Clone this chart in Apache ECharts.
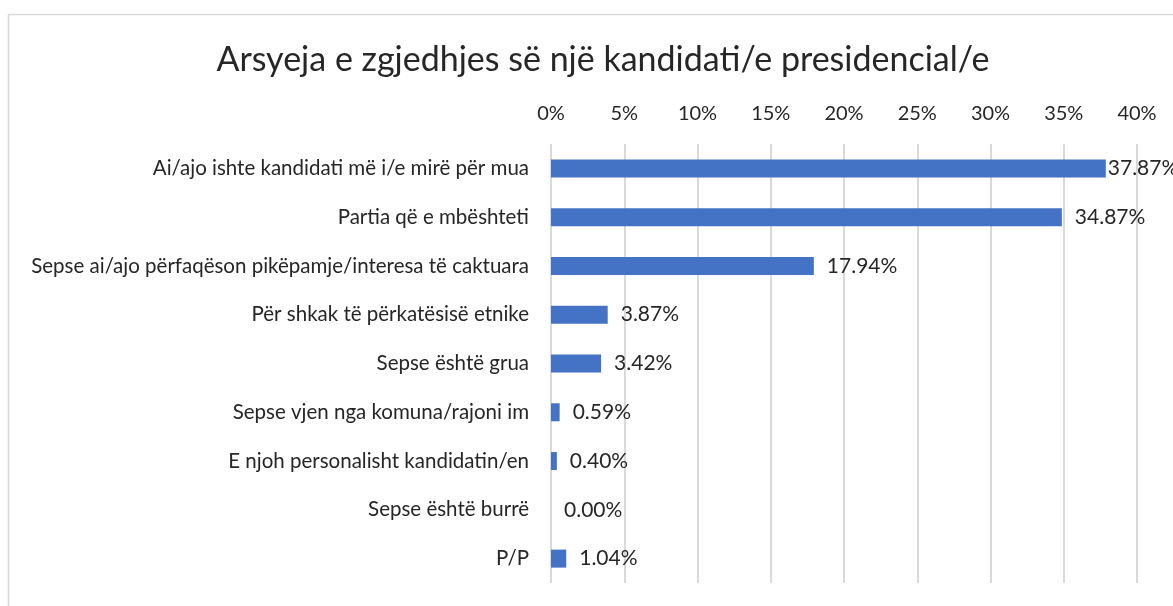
<!DOCTYPE html>
<html>
<head>
    <meta charset="utf-8">
    <title>Arsyeja e zgjedhjes</title>
    <script src="https://cdn.jsdelivr.net/npm/echarts@6/dist/echarts.min.js"></script>
    <style>
        html, body { margin: 0; padding: 0; background: #ffffff; }
        #main { width: 1173px; height: 606px; }
    </style>
</head>
<body>
    <div id="main"></div>
    <script>
        // data
        const categories = [
            'Ai/ajo ishte kandidati më i/e mirë për mua',
            'Partia që e mbështeti',
            'Sepse ai/ajo përfaqëson pikëpamje/interesa të caktuara',
            'Për shkak të përkatësisë etnike',
            'Sepse është grua',
            'Sepse vjen nga komuna/rajoni im',
            'E njoh personalisht kandidatin/en',
            'Sepse është burrë',
            'P/P'
        ];
        const shares = [37.87, 34.87, 17.94, 3.87, 3.42, 0.59, 0.40, 0.00, 1.04];

        const chart = echarts.init(document.getElementById('main'), null, { renderer: 'canvas' });
        const font = 'Lato, "Open Sans", sans-serif';

        chart.setOption({
            animation: false,
            textStyle: { fontFamily: font },
            title: {
                text: 'Arsyeja e zgjedhjes së një kandidati/e presidencial/e',
                left: 598,
                textAlign: 'center',
                top: 38,
                textStyle: { fontSize: 34, fontWeight: 'normal', color: '#262626', fontFamily: font }
            },
            graphic: [{
                type: 'rect',
                shape: { x: 8.5, y: 14.5, width: 1300, height: 700 },
                style: { fill: 'none', stroke: '#d9d9d9', lineWidth: 1.5 },
                silent: true
            }],
            grid: { left: 551, right: 36, top: 144, bottom: 23 },
            xAxis: {
                type: 'value',
                position: 'top',
                min: 0,
                max: 40,
                interval: 5,
                axisLine: { show: false },
                axisTick: { show: false },
                axisLabel: { formatter: '{value}%', fontSize: 20, color: '#262626', margin: 20 },
                splitLine: { lineStyle: { color: '#d9d9d9', width: 2 } }
            },
            yAxis: {
                type: 'category',
                data: categories,
                inverse: true,
                axisLine: { show: false },
                axisTick: { show: false },
                axisLabel: { fontSize: 20.5, color: '#262626', margin: 22 }
            },
            series: [{
                type: 'bar',
                data: shares.map((v, i) => i === 0
                    ? { value: v, label: { distance: 2 } }
                    : v),
                barWidth: 18,
                itemStyle: { color: '#4472c4' },
                label: {
                    show: true,
                    position: 'right',
                    distance: 13,
                    fontSize: 21,
                    color: '#262626',
                    formatter: p => p.value.toFixed(2) + '%'
                }
            }]
        });
    </script>
</body>
</html>
